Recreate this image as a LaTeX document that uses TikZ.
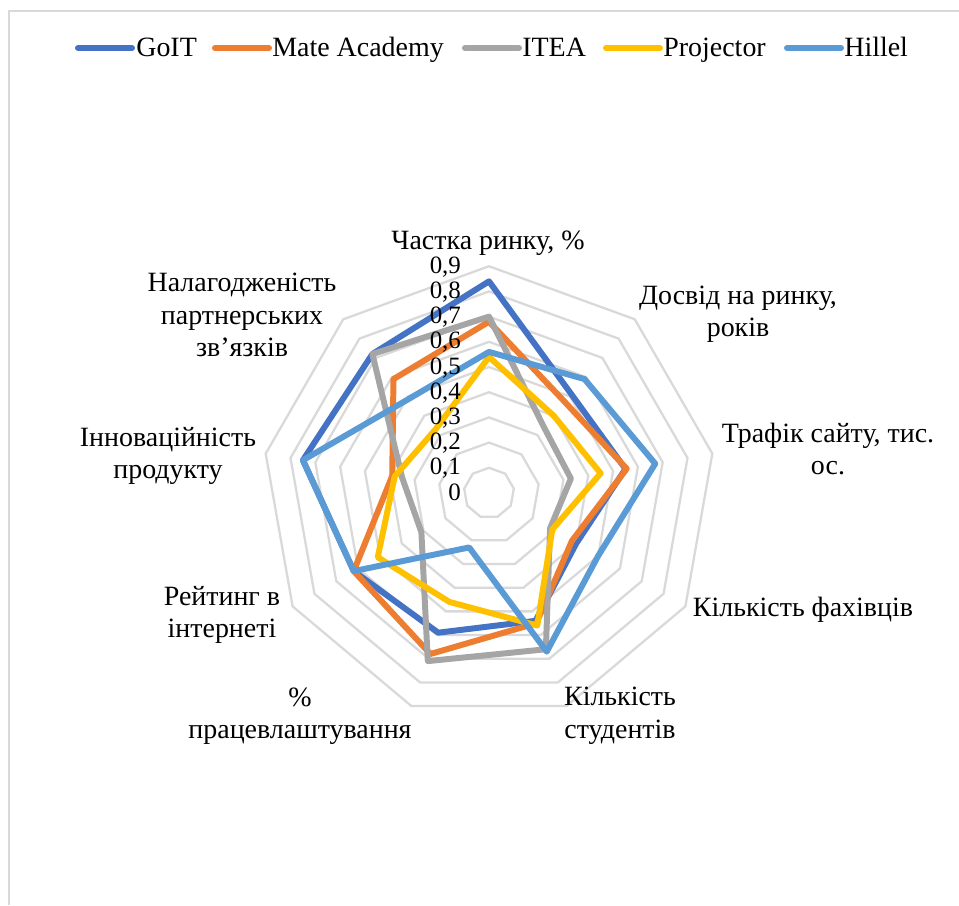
\documentclass[tikz,border=0pt]{standalone}
\usepackage{fontspec}
\setmainfont{Liberation Serif}
\definecolor{goit}{HTML}{4472C4}
\definecolor{mate}{HTML}{ED7D31}
\definecolor{itea}{HTML}{A5A5A5}
\definecolor{projector}{HTML}{FFC000}
\definecolor{hillel}{HTML}{5B9BD5}
\definecolor{ringgray}{HTML}{D9D9D9}
\begin{document}
\begin{tikzpicture}[x=0.02cm, y=0.02cm,
        series/.style={line width=3.4pt, line join=round, line cap=round},
        gridline/.style={ringgray, line width=1.3pt},
        lbl/.style={align=center, inner sep=0pt, font=\fontsize{15.9}{18.5}\selectfont},
        ticklbl/.style={inner sep=0pt, anchor=base east, font=\fontsize{14.2}{16}\selectfont}]
    \useasboundingbox (0,0) rectangle (959,905);
    \draw[ringgray, line width=1pt] (9,0) -- (9,894) -- (959,894);
    % legend
    \draw[series, goit] (78,857) -- (132,857);
    \node[lbl, anchor=base west] (leggoit) at (136,848) {GoIT};
    \draw[series, mate] (215,857) -- (269,857);
    \node[lbl, anchor=base west] (legmate) at (272,848) {Mate Academy};
    \draw[series, itea] (465,857) -- (519,857);
    \node[lbl, anchor=base west] (legitea) at (522,848) {ITEA};
    \draw[series, projector] (606,857) -- (660,857);
    \node[lbl, anchor=base west] (legproj) at (663,848) {Projector};
    \draw[series, hillel] (787,857) -- (841,857);
    \node[lbl, anchor=base west] (leghillel) at (844,848) {Hillel};
    % radar
    \begin{scope}[shift={(489,412)}, x=5.04cm, y=5.04cm]
        \foreach \r in {1,...,9}
            \draw[gridline] (90:{\r/10}) \foreach \a in {50,10,...,-230} {-- (\a:{\r/10})} -- cycle;
        \draw[series, goit] (90:0.84) -- (50:0.51) -- (10:0.55) -- (-30:0.40) -- (-70:0.54)
            -- (-110:0.59) -- (-150:0.62) -- (170:0.75) -- (130:0.72) -- cycle;
        \draw[series, mate] (90:0.68) -- (50:0.47) -- (10:0.555) -- (-30:0.38) -- (-70:0.55)
            -- (-110:0.68) -- (-150:0.62) -- (170:0.39) -- (130:0.59) -- cycle;
        \draw[series, itea] (90:0.70) -- (50:0.34) -- (10:0.33) -- (-30:0.28) -- (-70:0.66)
            -- (-110:0.71) -- (-150:0.31) -- (170:0.35) -- (130:0.72) -- cycle;
        \draw[series, projector] (90:0.54) -- (50:0.40) -- (10:0.45) -- (-30:0.29) -- (-70:0.56)
            -- (-110:0.46) -- (-150:0.51) -- (170:0.38) -- (130:0.33) -- cycle;
        \draw[series, hillel] (90:0.56) -- (50:0.59) -- (10:0.67) -- (-30:0.50) -- (-70:0.67)
            -- (-110:0.23) -- (-150:0.62) -- (170:0.75) -- (130:0.49) -- cycle;
        \node[ticklbl] (tick0) at (-0.11,-0.028) {0};
        \foreach \n in {1,...,9}
            \node[ticklbl] (tick\n) at (-0.11,\n/10-0.028) {0,\n};
    \end{scope}
    % axis labels
    \node[lbl] (share) at (488,662) {Частка ринку, \%};
    \node[lbl] (years) at (738,591) {Досвід на ринку,\\років};
    \node[lbl] (traffic) at (828,456) {Трафік сайту, тис.\\ос.};
    \node[lbl] (experts) at (803,295) {Кількість фахівців};
    \node[lbl] (students) at (620,189) {Кількість\\студентів};
    \node[lbl] (employ) at (300,189) {\%\\працевлаштування};
    \node[lbl] (rating) at (222,290) {Рейтинг в\\інтернеті};
    \node[lbl] (innov) at (168,449) {Інноваційність\\продукту};
    \node[lbl] (partners) at (242,590) {Налагодженість\\партнерських\\зв’язків};
\end{tikzpicture}
\end{document}
